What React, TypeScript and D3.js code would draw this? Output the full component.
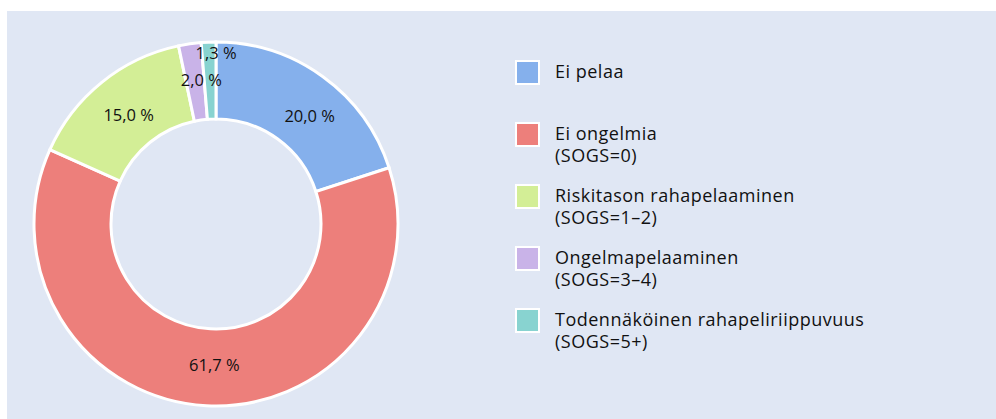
import React from "react";
import * as d3 from "d3";

const categories = [
  "Ei pelaa",
  "Ei ongelmia",
  "Riskitason rahapelaaminen",
  "Ongelmapelaaminen",
  "Todennäköinen rahapeliriippuvuus",
];
const subLabels = ["", "(SOGS=0)", "(SOGS=1–2)", "(SOGS=3–4)", "(SOGS=5+)"];
const values = [20.0, 61.7, 15.0, 2.0, 1.3];
const valueLabels = ["20,0 %", "61,7 %", "15,0 %", "2,0 %", "1,3 %"];
const colors = ["#85b0ec", "#ed7f7b", "#d3ee96", "#c9b3e8", "#88d3d0"];

const W = 996;
const H = 419;
const FONT = "'Open Sans', 'Noto Sans', sans-serif";

export default function App() {
  const cx = 216;
  const cy = 224;
  const rOuter = 182;
  const rInner = 105;
  const pie = d3.pie<number>().sort(null).value((d) => d)(values);
  const arc = d3.arc<d3.PieArcDatum<number>>().innerRadius(rInner).outerRadius(rOuter);
  const labelRadii = [144, 144, 144, 144, 172];
  const labelShift = [
    [9, 8],
    [6, -3],
    [3, 3],
    [6, -2],
    [7, 0],
  ];
  const legendY = d3.scaleLinear().domain([0, 1]).range([72.5, 134.5]);

  return (
    <svg
      width={W}
      height={H}
      style={{ position: "absolute", left: 0, top: 0, fontFamily: FONT }}
    >
      <rect x={0} y={0} width={W} height={H} fill="#ffffff" />
      <rect x={7} y={11} width={W - 7} height={H - 11} fill="#e0e7f4" />
      <g transform={`translate(${cx},${cy})`}>
        {pie.map((p, i) => (
          <path key={i} d={arc(p) || ""} fill={colors[i]} stroke="#ffffff" strokeWidth={3} strokeLinejoin="miter" />
        ))}
        {pie.map((p, i) => {
          const la = d3.arc<d3.PieArcDatum<number>>().innerRadius(labelRadii[i]).outerRadius(labelRadii[i]);
          const [x, y] = la.centroid(p);
          return (
            <text
              key={i}
              x={x + labelShift[i][0]}
              y={y + labelShift[i][1]}
              textAnchor="middle"
              dominantBaseline="central"
              fontSize={16.5}
              fill="#111"
            >
              {valueLabels[i]}
            </text>
          );
        })}
      </g>
      {categories.map((c, i) => {
        const yc = legendY(i);
        return (
          <g key={i}>
            <rect x={516} y={yc - 11.5} width={23} height={23} fill={colors[i]} stroke="#ffffff" strokeWidth={2} />
            <text x={555} y={yc + 5.5} fontSize={18} letterSpacing={0.5} fill="#111">{c}</text>
            {subLabels[i] && (
              <text x={555} y={yc + 27.5} fontSize={18} letterSpacing={0.5} fill="#111">{subLabels[i]}</text>
            )}
          </g>
        );
      })}
    </svg>
  );
}
